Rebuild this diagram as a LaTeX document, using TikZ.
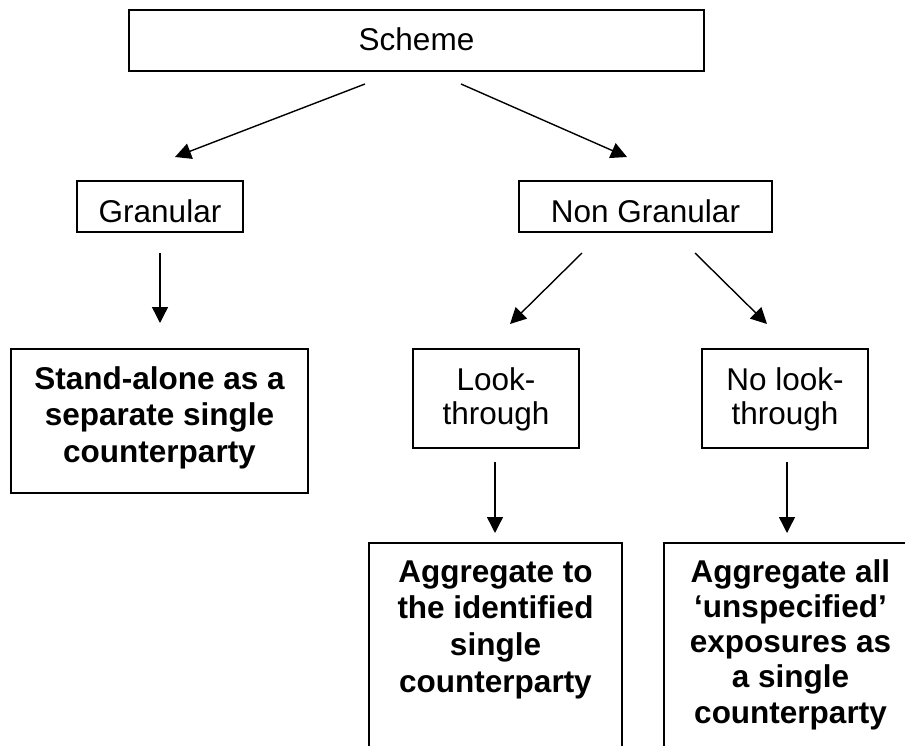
\documentclass[tikz,border=0pt]{standalone}
\usepackage{fontspec}
\setmainfont{Liberation Sans}
\usetikzlibrary{arrows.meta,calc}
\newcommand{\bxt}[5]{\parbox[c][#2][t]{#1}{\centering\fontsize{31.5}{#4}\selectfont\rule{0pt}{#3}#5}}
\begin{document}
\begin{tikzpicture}[x=1pt,y=-1pt,
  box/.style={draw,line width=1.6pt,inner sep=0pt,outer sep=0pt},
  arr/.style={line width=1.4pt,-{Triangle[length=16pt,width=16pt]}}]
\useasboundingbox (0,0) rectangle (905,746);
\clip (0,0) rectangle (905,746);
\fill[white] (0,0) rectangle (905,746);
\node[box] (scheme) at (416.5,40.5) {\bxt{575pt}{61pt}{41pt}{36pt}{Scheme}};
\node[box] (gran) at (160,206.5) {\bxt{166pt}{51pt}{41.5pt}{36pt}{Granular}};
\node[box] (ngran) at (645.5,206.5) {\bxt{253pt}{51pt}{41.5pt}{36pt}{Non Granular}};
\node[box] (stand) at (159.5,421) {\bxt{297pt}{144pt}{40pt}{36.5pt}{\bfseries Stand-alone as a\\separate single\\counterparty}};
\node[box] (look) at (496,398.5) {\bxt{166pt}{99pt}{41pt}{34pt}{Look-\\through}};
\node[box] (nolook) at (785,398.5) {\bxt{166pt}{99pt}{41pt}{34pt}{No look-\\through}};
\node[box] (agga) at (495.5,673) {\bxt{253pt}{260pt}{39pt}{36.7pt}{\bfseries Aggregate to\\the identified\\single\\counterparty}};
\node[box] (aggb) at (790.5,673) {\bxt{253pt}{260pt}{39pt}{35.3pt}{\bfseries Aggregate all\\‘unspecified’\\exposures as\\a single\\counterparty}};
\draw[arr] ($(scheme.south)+(-51.5,13)$) -- ($(gran.north)+(15,-24)$);
\draw[arr] ($(scheme.south)+(44.5,13)$) -- ($(ngran.north)+(-18.5,-24)$);
\draw[arr] ($(gran.south)+(0,21)$) -- ($(stand.north)+(0.5,-26)$);
\draw[arr] ($(ngran.south)+(-63.5,21)$) -- ($(look.north)+(14,-25)$);
\draw[arr] ($(ngran.south)+(49.5,21)$) -- ($(nolook.north)+(-18,-25)$);
\draw[arr] ($(look.south)+(-1,14)$) -- ($(agga.north)+(-0.5,-10)$);
\draw[arr] ($(nolook.south)+(2,14)$) -- ($(aggb.north)+(-3.5,-10)$);
\end{tikzpicture}
\end{document}
